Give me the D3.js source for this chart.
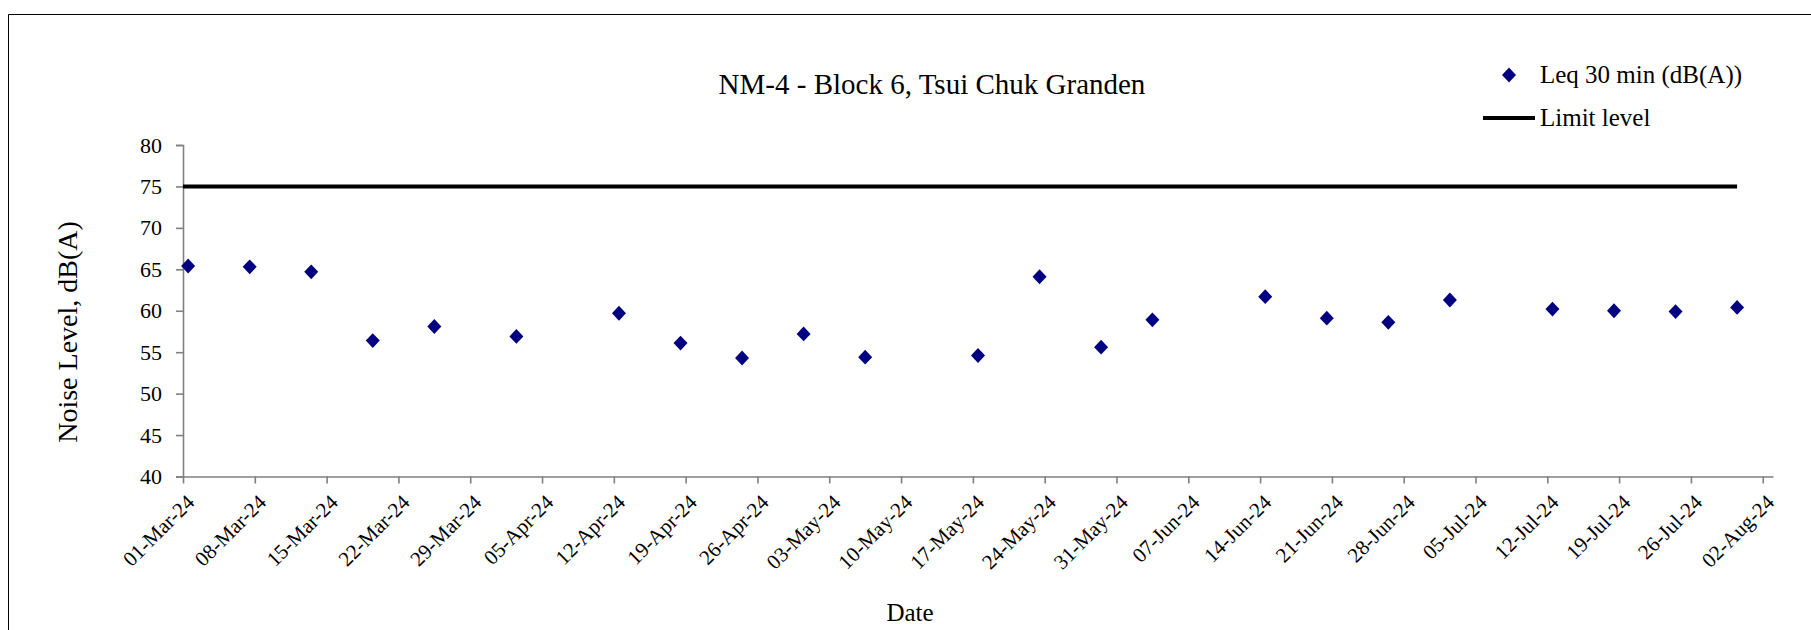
<!DOCTYPE html>
<html>
<head>
<meta charset="utf-8">
<script src="https://cdn.jsdelivr.net/npm/d3@7"></script>
<style>
  html, body { margin: 0; padding: 0; background: #fff; }
  svg { display: block; font-family: "Liberation Serif", "Times New Roman", serif; }
</style>
</head>
<body>
<svg width="1811" height="630"></svg>
<script>
// measurement dates (taken around midday) and Leq values
const dates = ['2024-03-01', '2024-03-07', '2024-03-13', '2024-03-19', '2024-03-25',
	'2024-04-02', '2024-04-12', '2024-04-18', '2024-04-24', '2024-04-30',
	'2024-05-06', '2024-05-17', '2024-05-23', '2024-05-29', '2024-06-03',
	'2024-06-14', '2024-06-20', '2024-06-26', '2024-07-02', '2024-07-12',
	'2024-07-18', '2024-07-24', '2024-07-30']
const leq = [65.4, 65.3, 64.7, 56.4, 58.1, 56.9, 59.7, 56.1, 54.3, 57.2,
	54.4, 54.6, 64.1, 55.6, 58.9, 61.7, 59.1, 58.6, 61.3, 60.2,
	60.0, 59.9, 60.4]

const limitDates = ['2024-03-01T00:00', '2024-07-30T12:00']
const limitValues = [75, 75]

const xTicks = ['2024-03-01', '2024-03-08', '2024-03-15', '2024-03-22', '2024-03-29',
	'2024-04-05', '2024-04-12', '2024-04-19', '2024-04-26', '2024-05-03',
	'2024-05-10', '2024-05-17', '2024-05-24', '2024-05-31', '2024-06-07',
	'2024-06-14', '2024-06-21', '2024-06-28', '2024-07-05', '2024-07-12',
	'2024-07-19', '2024-07-26', '2024-08-02']
const yTicks = [40, 45, 50, 55, 60, 65, 70, 75, 80]

const title = 'NM-4 - Block 6, Tsui Chuk Granden'
const legendLabels = ['Leq 30 min (dB(A))', 'Limit level']

const parseDay = d3.utcParse('%Y-%m-%d')
const parseTime = d3.utcParse('%Y-%m-%dT%H:%M')
const noon = s => parseTime(s + 'T12:00')

let svg = d3.select('svg')

// outer chart border (cut off at the right and bottom)
svg.append('path')
	.attr('d', 'M8.5,630 V14.5 H1811')
	.attr('fill', 'none')
	.attr('stroke', '#000')
	.attr('stroke-width', 1)

let scX = d3.scaleUtc()
	.domain([parseDay('2024-03-01'), parseDay('2024-08-03')])
	.range([183, 1773])

let scY = d3.scaleLinear()
	.domain([40, 80])
	.range([476.5, 145])

let axisColor = '#808080'

// y axis
let gy = svg.append('g')
	.attr('transform', `translate(${scX.range()[0]},0)`)
	.call(d3.axisLeft(scY).tickValues(yTicks).tickSize(7).tickPadding(14))
gy.select('.domain').attr('stroke', axisColor).attr('stroke-width', 1.6)
gy.selectAll('.tick line').attr('stroke', axisColor).attr('stroke-width', 1.6)
gy.selectAll('.tick text')
	.attr('font-family', '"Liberation Serif", serif')
	.attr('font-size', 22)
	.attr('fill', '#000')

// x axis
let gx = svg.append('g')
	.attr('transform', `translate(0,${scY(40)})`)
	.call(d3.axisBottom(scX)
		.tickValues(xTicks.map(parseDay))
		.tickFormat(d3.utcFormat('%d-%b-%y'))
		.tickSize(7)
		.tickSizeOuter(0))
gx.select('.domain').attr('stroke', axisColor).attr('stroke-width', 1.6)
gx.selectAll('.tick line').attr('stroke', axisColor).attr('stroke-width', 1.6)
gx.selectAll('.tick text')
	.attr('font-family', '"Liberation Serif", serif')
	.attr('font-size', 21)
	.attr('fill', '#000')
	.attr('text-anchor', 'end')
	.attr('dy', null)
	.attr('transform', 'translate(5,20) rotate(-45)')

// limit line
let line = d3.line()
	.x(d => scX(d[0]))
	.y(d => scY(d[1]))

svg.append('path')
	.datum(limitDates.map((d, i) => [parseTime(d), limitValues[i]]))
	.attr('d', line)
	.attr('fill', 'none')
	.attr('stroke', '#000')
	.attr('stroke-width', 4)

// diamond markers
const diamond = 'M0,-7.4 L7,0 L0,7.4 L-7,0 Z'

svg.append('g')
	.selectAll('path')
	.data(dates.map((d, i) => ({ t: noon(d), v: leq[i] })))
	.enter()
	.append('path')
	.attr('d', diamond)
	.attr('fill', '#000080')
	.attr('transform', d => `translate(${scX(d.t)},${scY(d.v)})`)

// title
svg.append('text')
	.attr('x', 932)
	.attr('y', 94)
	.attr('text-anchor', 'middle')
	.attr('font-size', 29)
	.text(title)

// axis titles
svg.append('text')
	.attr('x', 910)
	.attr('y', 621)
	.attr('text-anchor', 'middle')
	.attr('font-size', 25)
	.text('Date')

svg.append('text')
	.attr('transform', 'translate(77,332) rotate(-90)')
	.attr('text-anchor', 'middle')
	.attr('font-size', 28)
	.text('Noise Level, dB(A)')

// legend
let lg = svg.append('g')
lg.append('path')
	.attr('d', diamond)
	.attr('fill', '#000080')
	.attr('transform', 'translate(1509,75)')
lg.append('text')
	.attr('x', 1540).attr('y', 83)
	.attr('font-size', 25)
	.text(legendLabels[0])
lg.append('line')
	.attr('x1', 1483).attr('x2', 1535)
	.attr('y1', 118).attr('y2', 118)
	.attr('stroke', '#000')
	.attr('stroke-width', 4)
lg.append('text')
	.attr('x', 1540).attr('y', 126)
	.attr('font-size', 25)
	.text(legendLabels[1])
</script>
</body>
</html>
